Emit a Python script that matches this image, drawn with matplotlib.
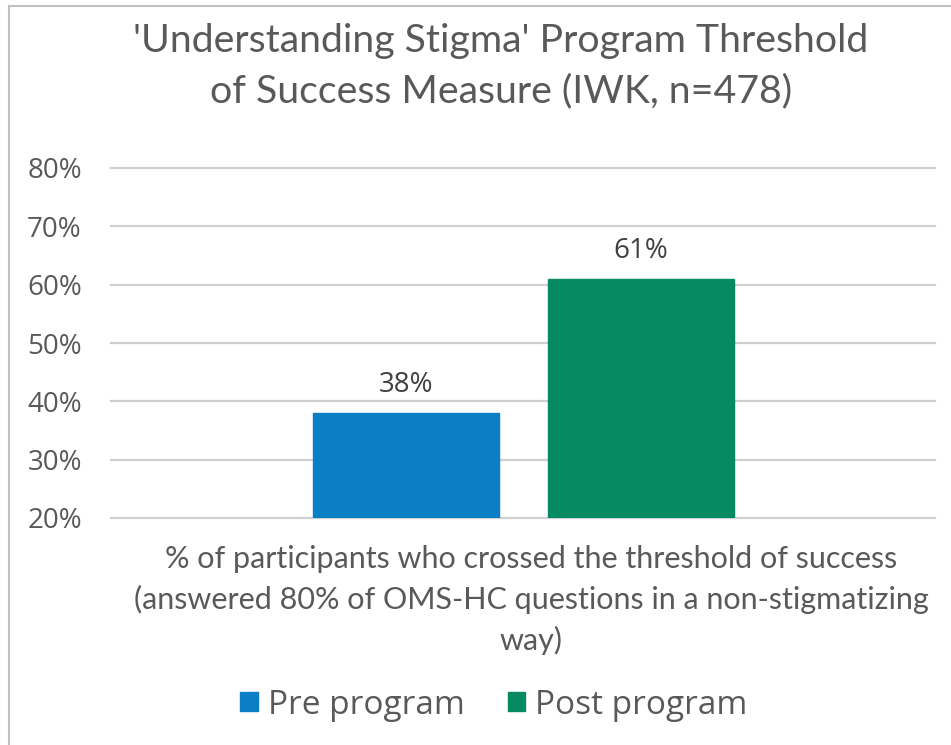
import matplotlib
matplotlib.use("Agg")
import matplotlib.pyplot as plt
from matplotlib.lines import Line2D
from matplotlib.patches import Patch
import numpy as np

series = ["Pre program", "Post program"]
values = [38, 61]
colors = ["#0b7fc6", "#058a62"]
yticks = [20, 30, 40, 50, 60, 70, 80]
title = "'Understanding Stigma' Program Threshold\nof Success Measure (IWK, n=478)"
category = ("% of participants who crossed the threshold of success\n"
            "(answered 80% of OMS-HC questions in a non-stigmatizing\nway)")

narrow = ["Lato", "DejaVu Sans"]
body = ["Open Sans", "DejaVu Sans"]
grey = "#595959"

W, H = 951, 745
fig = plt.figure(figsize=(W / 100, H / 100), dpi=100)
fig.patch.set_facecolor("white")

left, right, top, bottom = 111, 935, 168, 518
ax = fig.add_axes([left / W, 1 - bottom / H, (right - left) / W, (bottom - top) / H])

width = 0.226
offsets = np.array([-0.142, 0.143])
bars = ax.bar(offsets, [v - yticks[0] for v in values], bottom=yticks[0],
              width=width, color=colors, edgecolor=colors, linewidth=1, zorder=3)

for b, v in zip(bars, values):
    ax.annotate(f"{v}%", (b.get_x() + b.get_width() / 2, v),
                xytext=(0, 10), textcoords="offset points",
                ha="center", va="bottom", fontsize=20, color="#404040",
                family=body)

ax.set_xlim(-0.5, 0.5)
ax.set_ylim(yticks[0], yticks[-1])
ax.set_yticks(yticks)
ax.set_yticklabels([f"{t}%" for t in yticks], family=body, fontsize=20, color=grey)
ax.set_xticks([])
ax.tick_params(axis="y", length=0, pad=21)
ax.grid(axis="y", color="#d0d0d0", linewidth=1.6, zorder=0)
for s in ax.spines.values():
    s.set_visible(False)
for g in ax.yaxis.get_gridlines():
    g.set_clip_on(False)

fig.text(501 / W, 1 - 66 / H, title, ha="center", va="center",
         fontsize=28.3, color=grey, family=narrow, linespacing=1.48)

fig.text(531 / W, 1 - 600 / H, category, ha="center", va="center",
         fontsize=22, color=grey, family=narrow, linespacing=1.5)

handles = [Patch(facecolor=c, edgecolor=c) for c in colors]
fig.legend(handles, series, loc="center", bbox_to_anchor=(494 / W, 1 - 705 / H),
           ncol=2, frameon=False, prop={"family": body, "size": 24},
           handlelength=0.52, handleheight=0.52, handletextpad=0.3,
           columnspacing=1.3, labelcolor=grey)

# light chart frame visible on top and left edges
fig.add_artist(Line2D([9 / W, 9 / W], [0, 1 - 6 / H], transform=fig.transFigure,
                      color="#c0c0c0", linewidth=1.5))
fig.add_artist(Line2D([9 / W, 1], [1 - 6 / H, 1 - 6 / H], transform=fig.transFigure,
                      color="#c0c0c0", linewidth=1.5))

fig.savefig("out.png", dpi=100)
